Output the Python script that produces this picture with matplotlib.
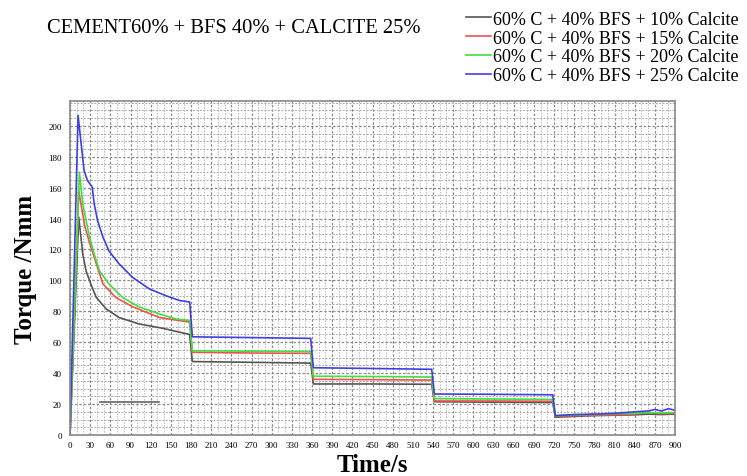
import numpy as np
import matplotlib.pyplot as plt
from matplotlib.ticker import MultipleLocator

labels = ['60% C + 40% BFS + 10% Calcite',
          '60% C + 40% BFS + 15% Calcite',
          '60% C + 40% BFS + 20% Calcite',
          '60% C + 40% BFS + 25% Calcite']
colors = ['#555555', '#f05050', '#40e040', '#4040e0']

# time points (s)
t_c10 = [0, 13, 19, 24, 31, 39, 54, 73, 103, 138, 178, 180, 182, 270, 358, 360, 362, 450, 538, 540, 542, 630, 718,
         720, 722, 750, 780, 810, 840, 860, 880, 900]
v_c10 = [0, 141, 117, 106, 97.7, 89, 81.5, 76, 71.8, 69, 65, 56, 47.5, 47, 46.5, 40, 33, 33, 32.8, 27, 21.5, 21.2, 21,
         16, 11.5, 12, 12.5, 12.8, 13, 13.5, 13.2, 13.5]

t_c15 = [0, 13, 22, 31, 49, 68, 93, 133, 178, 180, 182, 270, 358, 360, 362, 450, 538, 540, 542, 630, 718,
         720, 722, 750, 780, 810, 840, 860, 880, 900]
v_c15 = [0, 158, 135, 121.7, 97.7, 89, 83, 76, 73, 63, 53.5, 53, 52.8, 45, 36, 35.8, 35.5, 29, 22, 22, 21.8,
         17, 12, 12.5, 12.8, 13, 13.5, 14.5, 13.8, 14]

t_c20 = [0, 14, 19, 24, 29, 36, 44, 58, 78, 103, 133, 158, 178, 180, 182, 270, 358, 360, 362, 450, 538, 540, 542, 630, 718,
         720, 722, 750, 780, 810, 840, 860, 880, 900]
v_c20 = [0, 170, 149.5, 138.7, 128, 117, 106, 97.7, 89, 82.8, 78.3, 75, 74, 64, 54.5, 54.2, 54, 46, 38, 37.8, 37.5,
         30, 23.5, 23.3, 23, 18, 12.5, 13, 13.3, 13.8, 14, 14.5, 14.2, 14.5]

t_c25 = [0, 12, 21, 26, 33, 36, 41, 49, 58, 73, 93, 118, 143, 163, 178, 180, 182, 270, 358, 360, 362, 450, 538,
         540, 542, 630, 718, 720, 722, 750, 780, 810, 840, 860, 870, 880, 890, 900]
v_c25 = [0, 206.7, 171, 164.6, 160.5, 149.5, 138.7, 128, 119, 110.7, 102, 94.5, 90, 87, 86, 75, 63.5, 63, 62.5,
         53, 43.5, 43, 42.5, 35, 26.5, 26.3, 26, 19, 12.5, 13.2, 13.5, 14, 15, 15.5, 16.5, 15.5, 17, 16]

# stray grey line near the bottom
t_gray = [44, 133]
v_gray = [21.5, 21.5]

series = [(t_c10, v_c10), (t_c15, v_c15), (t_c20, v_c20), (t_c25, v_c25)]

plt.rcParams['font.family'] = ['Liberation Serif', 'DejaVu Serif']

fig = plt.figure(figsize=(7.47, 4.77), dpi=100, facecolor='w')
ax = fig.add_axes([0.0937, 0.086, 0.81, 0.70])

for (t, v), c, lab in zip(series, colors, labels):
	ax.plot(t, v, color=c, linewidth=1.2, label=lab)
ax.plot(t_gray, v_gray, color='#666666', linewidth=1.2)

ax.set_xlim(0, 900)
ax.set_ylim(0, 216)
ax.xaxis.set_major_locator(MultipleLocator(30))
ax.yaxis.set_major_locator(MultipleLocator(20))
ax.xaxis.set_minor_locator(MultipleLocator(10))
ax.yaxis.set_minor_locator(MultipleLocator(5))
ax.grid(True, which='major', color='#8a8a8a', linestyle=(0, (2, 1.5)), linewidth=0.9)
ax.grid(True, which='minor', axis='x', color='#b8b8b8', linestyle=(0, (1.5, 1.5)), linewidth=0.7)
ax.grid(True, which='minor', axis='y', color='#a8a8a8', linestyle=(0, (2, 1.5)), linewidth=0.7)
ax.set_axisbelow(True)
ax.tick_params(which='both', length=0, labelsize=6.5)
ax.tick_params(axis='y', pad=6)
ax.tick_params(axis='x', pad=4)
for s in ax.spines.values():
	s.set_color('#888888')
	s.set_linewidth(1.2)

ax.set_xlabel('Time/s', fontsize=18, fontweight='bold', labelpad=3)
ax.set_ylabel('Torque /Nmm', fontsize=18, fontweight='bold', labelpad=8)

fig.text(0.063, 0.94, 'CEMENT60% + BFS 40% + CALCITE 25%', fontsize=14.8, va='center')
fig.legend(loc='upper right', bbox_to_anchor=(1.005, 1.0), frameon=False, fontsize=13,
	handlelength=1.4, handletextpad=0.1, labelspacing=0.1, borderpad=0.15)

plt.savefig('out.png', dpi=100)
